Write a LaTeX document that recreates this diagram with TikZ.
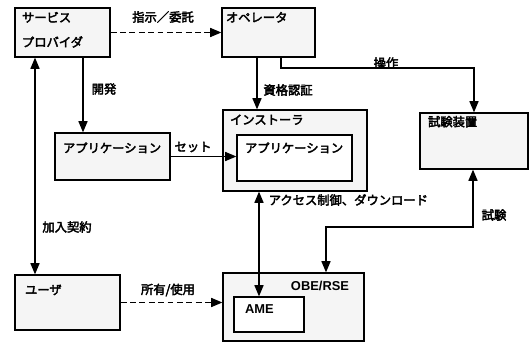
\documentclass[tikz,border=0pt]{standalone}
\usepackage{fontspec}
\setmainfont{Liberation Sans}
\newfontfamily\jp[AutoFakeBold=3]{Noto Sans CJK JP}
\usepackage{tikz}
\usetikzlibrary{positioning, arrows}

\begin{document}
\begin{tikzpicture}[y=-1cm, >=triangle 45, line width=1.2pt,
    font=\jp\bfseries\fontsize{10.5}{12.5}\selectfont,
    box/.style={draw, rectangle, fill=black!4, inner sep=0pt},
    innerbox/.style={draw, rectangle, fill=white, inner sep=0pt},
    boxtext/.style={anchor=north west, inner sep=0pt},
    lbl/.style={inner sep=0pt},
    dashline/.style={->, dash pattern=on 5pt off 3pt}]
    \useasboundingbox (0,0) rectangle (15.93,10.26);
    % boxes
    \node[box, minimum width=2.85cm, minimum height=1.47cm] (sp) at (1.875,0.975) {};
    \node[box, minimum width=2.79cm, minimum height=1.47cm] (op) at (8.055,0.975) {};
    \node[box, minimum width=3.45cm, minimum height=1.41cm] (app) at (3.375,4.695) {};
    \node[box, minimum width=4.32cm, minimum height=2.43cm] (inst) at (8.85,4.515) {};
    \node[innerbox, minimum width=3.45cm, minimum height=1.38cm] (inapp) at (8.835,4.74) {};
    \node[box, minimum width=3.24cm, minimum height=1.68cm] (test) at (14.22,4.23) {};
    \node[box, minimum width=3.15cm, minimum height=1.65cm] (user) at (2.025,9.075) {};
    \node[box, minimum width=4.23cm, minimum height=2.04cm] (obe) at (8.805,9.21) {};
    \node[innerbox, minimum width=2.1cm, minimum height=1.05cm] (ame) at (8.07,9.435) {};
    % box texts
    \node[boxtext, align=left] (sptxt) at ([shift={(0.21,0.12)}]sp.north west) {サービス\\[8.5pt]プロバイダ};
    \node[boxtext] (optxt) at ([shift={(0.12,0.12)}]op.north west) {オペレータ};
    \node[boxtext] (apptxt) at ([shift={(0.24,0.28)}]app.north west) {アプリケーション};
    \node[boxtext] (insttxt) at ([shift={(0.21,0.14)}]inst.north west) {インストーラ};
    \node[boxtext] (inapptxt) at ([shift={(0.24,0.22)}]inapp.north west) {アプリケーション};
    \node[boxtext] (testtxt) at ([shift={(0.24,0.09)}]test.north west) {試験装置};
    \node[boxtext] (usertxt) at ([shift={(0.3,0.29)}]user.north west) {ユーザ};
    \node[boxtext, anchor=north east, font=\bfseries\fontsize{11}{13}\selectfont] (obetxt) at ([shift={(-0.45,0.25)}]obe.north east) {OBE/RSE};
    \node[boxtext, font=\bfseries\fontsize{11}{13}\selectfont] (ametxt) at ([shift={(0.33,0.24)}]ame.north west) {AME};
    % helper coordinates
    \coordinate (devx) at (2.49,0);
    \coordinate (joinx) at (1.05,0);
    \coordinate (authx) at (7.71,0);
    \coordinate (oprx) at (8.43,2.04);
    \coordinate (accx) at (7.77,0);
    \coordinate (testx) at (14.19,6.81);
    \coordinate (obex) at (9.78,6.81);
    % connectors
    \draw[dashline] (sp.east) -- (op.west);
    \draw[->] (sp.south -| devx) -- (app.north -| devx);
    \draw[<->] (sp.south -| joinx) -- (user.north -| joinx);
    \draw[->] (op.south -| authx) -- (inst.north -| authx);
    \draw[->] (op.south -| oprx) -- (oprx) -- (oprx -| test.north) -- (test.north);
    \draw[->] (app.east) -- (inapp.west |- app.east);
    \draw[<->] (inst.south -| accx) -- (ame.north -| accx);
    \draw[<->] (test.south -| testx) -- (testx) -- (obex) -- (obe.north -| obex);
    \draw[dashline] (user.east) -- (obe.west |- user.east);
    % labels
    \node[lbl] (l1) at (4.89,0.51) {指示／委託};
    \node[lbl] (l2) at (3.12,2.67) {開発};
    \node[lbl] (l3) at (8.64,2.7) {資格認証};
    \node[lbl] (l4) at (11.58,1.89) {操作};
    \node[lbl] (l5) at (5.79,4.41) {セット};
    \node[lbl, anchor=west] (l6) at (8.04,6.0) {アクセス制御、ダウンロード};
    \node[lbl] (l7) at (14.82,6.45) {試験};
    \node[lbl] (l8) at (2.01,6.81) {加入契約};
    \node[lbl] (l9) at (5.04,8.7) {所有/使用};
\end{tikzpicture}
\end{document}
